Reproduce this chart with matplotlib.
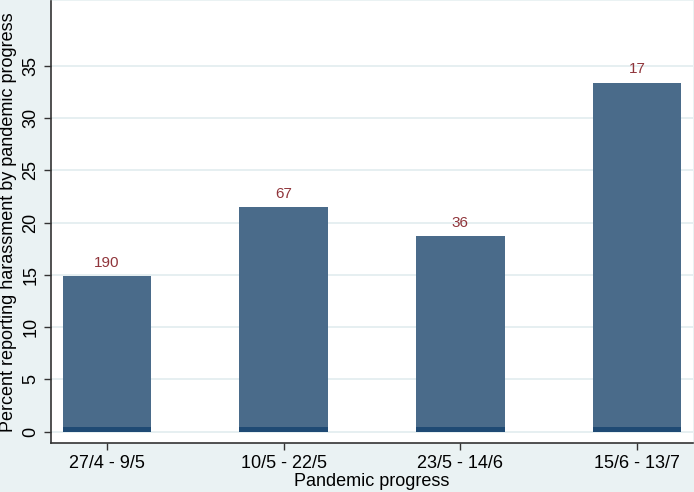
import matplotlib
matplotlib.use("Agg")
import matplotlib.pyplot as plt

categories = ["27/4 - 9/5", "10/5 - 22/5", "23/5 - 14/6", "15/6 - 13/7"]
percent = [14.9, 21.5, 18.7, 33.4]
counts = [190, 67, 36, 17]
base = [0.4, 0.4, 0.4, 0.4]
yticks = [0, 5, 10, 15, 20, 25, 30, 35]

plt.rcParams['font.family'] = ['Liberation Sans', 'DejaVu Sans']
bg = "#eaf2f3"
fig = plt.figure(figsize=(6.94, 4.92), dpi=100, facecolor=bg)
ax = fig.add_axes([51/694, 49/492, 642/694, 442/492])
ax.set_facecolor("white")

x = list(range(len(categories)))
ax.bar(x, percent, width=0.5, color="#4a6b8a", zorder=2)
ax.bar(x, base, width=0.5, color="#1f4a74", zorder=3)
for xi, p, c in zip(x, percent, counts):
    ax.text(xi, p + 0.6, str(c), ha="center", va="bottom", color="#90353b", fontsize=11)

ax.set_xlim(-0.316, 3.316)
ax.set_ylim(-1.1, 41.2)
ax.set_yticks(yticks)
ax.set_yticklabels([str(t) for t in yticks], rotation=90, va="center")
ax.set_xticks(x)
ax.set_xticklabels(categories)
ax.tick_params(axis="both", labelsize=13, length=5, width=1, color="#333333", direction="out")
ax.yaxis.grid(True, color="#e6eff1", linewidth=1.4, zorder=0)
ax.set_axisbelow(True)
for s in ["top", "right"]:
    ax.spines[s].set_visible(False)
for s in ["left", "bottom"]:
    ax.spines[s].set_color("#333333")
    ax.spines[s].set_linewidth(1.2)
ax.set_xlabel("Pandemic progress", fontsize=13, labelpad=1)
ax.set_ylabel("Percent reporting harassment by pandemic progress", fontsize=13, labelpad=4)
fig.savefig("out.png", dpi=100, facecolor=bg)
